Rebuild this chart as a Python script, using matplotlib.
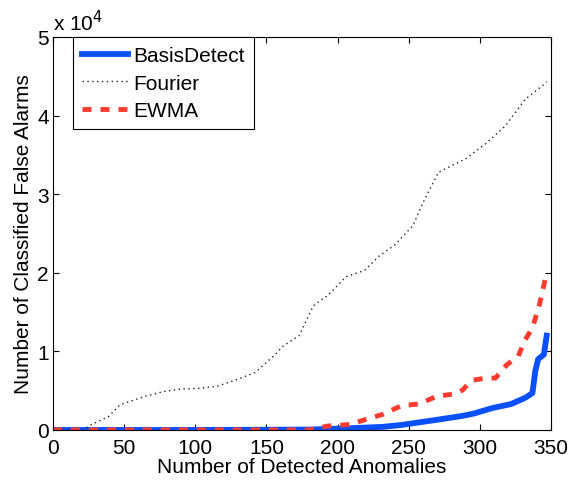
import numpy as np
import matplotlib.pyplot as plt
from matplotlib.ticker import FuncFormatter

# Werte (x = erkannte Anomalien, y = Fehlalarme)
basis_x = [0, 100, 180, 206, 232, 245, 270, 288, 296, 309, 322, 332, 337, 339, 341, 345, 347]
basis_y = [0, 0, 50, 200, 400, 640, 1300, 1800, 2100, 2800, 3300, 4100, 4700, 7500, 9000, 9600, 12000]

fourier_x = [0, 21, 26, 39, 47, 65, 78, 90, 103, 116, 129, 142, 155, 162, 173, 183, 193,
             206, 219, 229, 240, 253, 260, 271, 290, 304, 318, 332, 344, 347]
fourier_y = [0, 0, 600, 1700, 3200, 4300, 4900, 5200, 5300, 5600, 6400, 7300, 9400, 10700,
             12000, 15800, 17100, 19500, 20300, 22100, 23500, 26000, 28900, 32800, 34500,
             36400, 38700, 42100, 43800, 44300]

ewma_x = [0, 180, 193, 209, 219, 232, 245, 257, 270, 283, 288, 294, 304, 311, 319, 327,
          332, 337, 342, 347]
ewma_y = [0, 0, 500, 700, 1300, 2000, 3100, 3300, 4300, 4600, 5100, 6300, 6600, 6600,
          8300, 9400, 11500, 13000, 16000, 20000]


def plot_data():
    fig = plt.figure(figsize=(5.73, 4.81), dpi=100)
    ax = fig.add_axes([0.0925, 0.104, 0.869, 0.817])

    ax.plot(basis_x, basis_y, color='#0A50FF', linewidth=4.2, label='BasisDetect')
    ax.plot(fourier_x, fourier_y, color='#222222', linewidth=1.0, linestyle=(0, (1, 2.5)),
            label='Fourier')
    ax.plot(ewma_x, ewma_y, color='#FF3B2F', linewidth=3.5, linestyle=(0, (1.85, 1.85)),
            label='EWMA')

    ax.set_xlim(0, 350)
    ax.set_ylim(0, 50000)
    ax.set_xticks(np.arange(0, 351, 50))
    ax.set_yticks(np.arange(0, 50001, 10000))
    ax.yaxis.set_major_formatter(FuncFormatter(lambda v, p: f'{v / 1e4:g}'))
    ax.tick_params(direction='in', top=True, right=True, labelsize=15, length=4)
    ax.tick_params(axis='x', pad=6)
    ax.tick_params(axis='y', pad=3)
    ax.set_xlabel('Number of Detected Anomalies', fontsize=15, labelpad=0)
    ax.set_ylabel('Number of Classified False Alarms', fontsize=15, labelpad=3)
    ax.text(0.0, 1.008, r'x 10$^4$', transform=ax.transAxes, fontsize=15,
            ha='left', va='bottom')

    leg = ax.legend(loc='upper left', bbox_to_anchor=(0.04, 1.0), fontsize=15,
                    handlelength=2.2, handletextpad=0.25, borderpad=0.45,
                    labelspacing=0.4, borderaxespad=0, fancybox=False, framealpha=1)
    leg.get_frame().set_edgecolor('black')
    leg.get_frame().set_linewidth(0.8)

    fig.savefig('out.png', dpi=100)


plt.rcParams['font.family'] = ['Liberation Sans', 'DejaVu Sans']
plot_data()
